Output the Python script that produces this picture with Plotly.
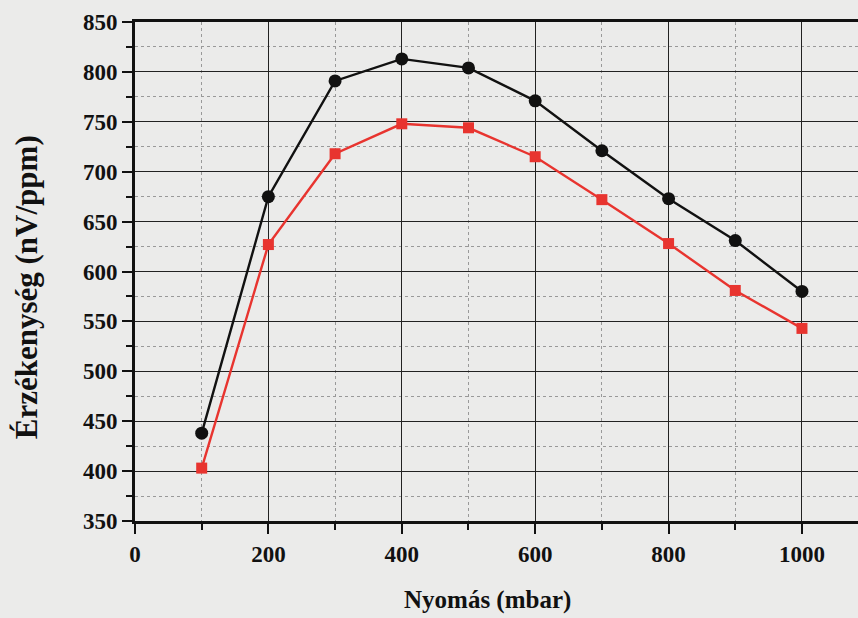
import plotly.graph_objects as go

pressure = [100, 200, 300, 400, 500, 600, 700, 800, 900, 1000]
black_series = [438, 675, 791, 813, 804, 771, 721, 673, 631, 580]
red_series = [403, 627, 718, 748, 744, 715, 672, 628, 581, 543]

x_ticks = [0, 200, 400, 600, 800, 1000]
y_ticks = [350, 400, 450, 500, 550, 600, 650, 700, 750, 800, 850]

FONT = "Liberation Serif"
BG = "#ebebea"

fig = go.Figure()
fig.add_trace(go.Scatter(x=pressure, y=black_series, mode="lines+markers",
                         line=dict(color="#111111", width=2.4),
                         marker=dict(symbol="circle", size=13, color="#111111"),
                         showlegend=False))
fig.add_trace(go.Scatter(x=pressure, y=red_series, mode="lines+markers",
                         line=dict(color="#e8342f", width=2.4),
                         marker=dict(symbol="square", size=11, color="#e8342f"),
                         showlegend=False))

fig.update_layout(
    width=858, height=618,
    margin=dict(l=135, r=0, t=22, b=97),
    paper_bgcolor=BG, plot_bgcolor=BG,
    font=dict(family=FONT, color="#111111"),
    annotations=[
        dict(text="<b>Érzékenység (nV/ppm)</b>", xref="paper", yref="paper",
             x=-0.149, y=0.469, xanchor="center", yanchor="middle", textangle=-90,
             showarrow=False, font=dict(family=FONT, size=31, color="#111111")),
        dict(text="<b>Nyomás (mbar)</b>", xref="paper", yref="paper",
             x=0.487, y=-0.158, xanchor="center", yanchor="middle",
             showarrow=False, font=dict(family=FONT, size=25, color="#111111")),
    ],
)
fig.update_xaxes(
    range=[0, 1084],
    tickmode="array", tickvals=x_ticks, ticktext=[f"<b>{v}</b>" for v in x_ticks],
    showline=True, linecolor="#111111", linewidth=3, mirror=True,
    ticks="outside", ticklen=10, tickwidth=2, tickcolor="#111111",
    showgrid=True, gridcolor="#222222", gridwidth=1.3,
    minor=dict(dtick=100, tick0=0, showgrid=True, gridcolor="#999999", griddash="dot",
               gridwidth=1, ticks="outside", ticklen=6, tickwidth=2, tickcolor="#111111"),
    tickfont=dict(family=FONT, size=23, color="#111111"),
    zeroline=False,
)
fig.update_yaxes(
    range=[350, 850],
    tickmode="array", tickvals=y_ticks, ticktext=[f"<b>{v}</b>" for v in y_ticks],
    showline=True, linecolor="#111111", linewidth=3, mirror=False,
    ticks="outside", ticklen=10, tickwidth=2, tickcolor="#111111",
    showgrid=True, gridcolor="#222222", gridwidth=1.3,
    minor=dict(dtick=25, tick0=350, showgrid=True, gridcolor="#999999", griddash="dot",
               gridwidth=1, ticks="outside", ticklen=6, tickwidth=2, tickcolor="#111111"),
    tickfont=dict(family=FONT, size=23, color="#111111"),
    zeroline=False,
)

fig.write_html("out.html")
